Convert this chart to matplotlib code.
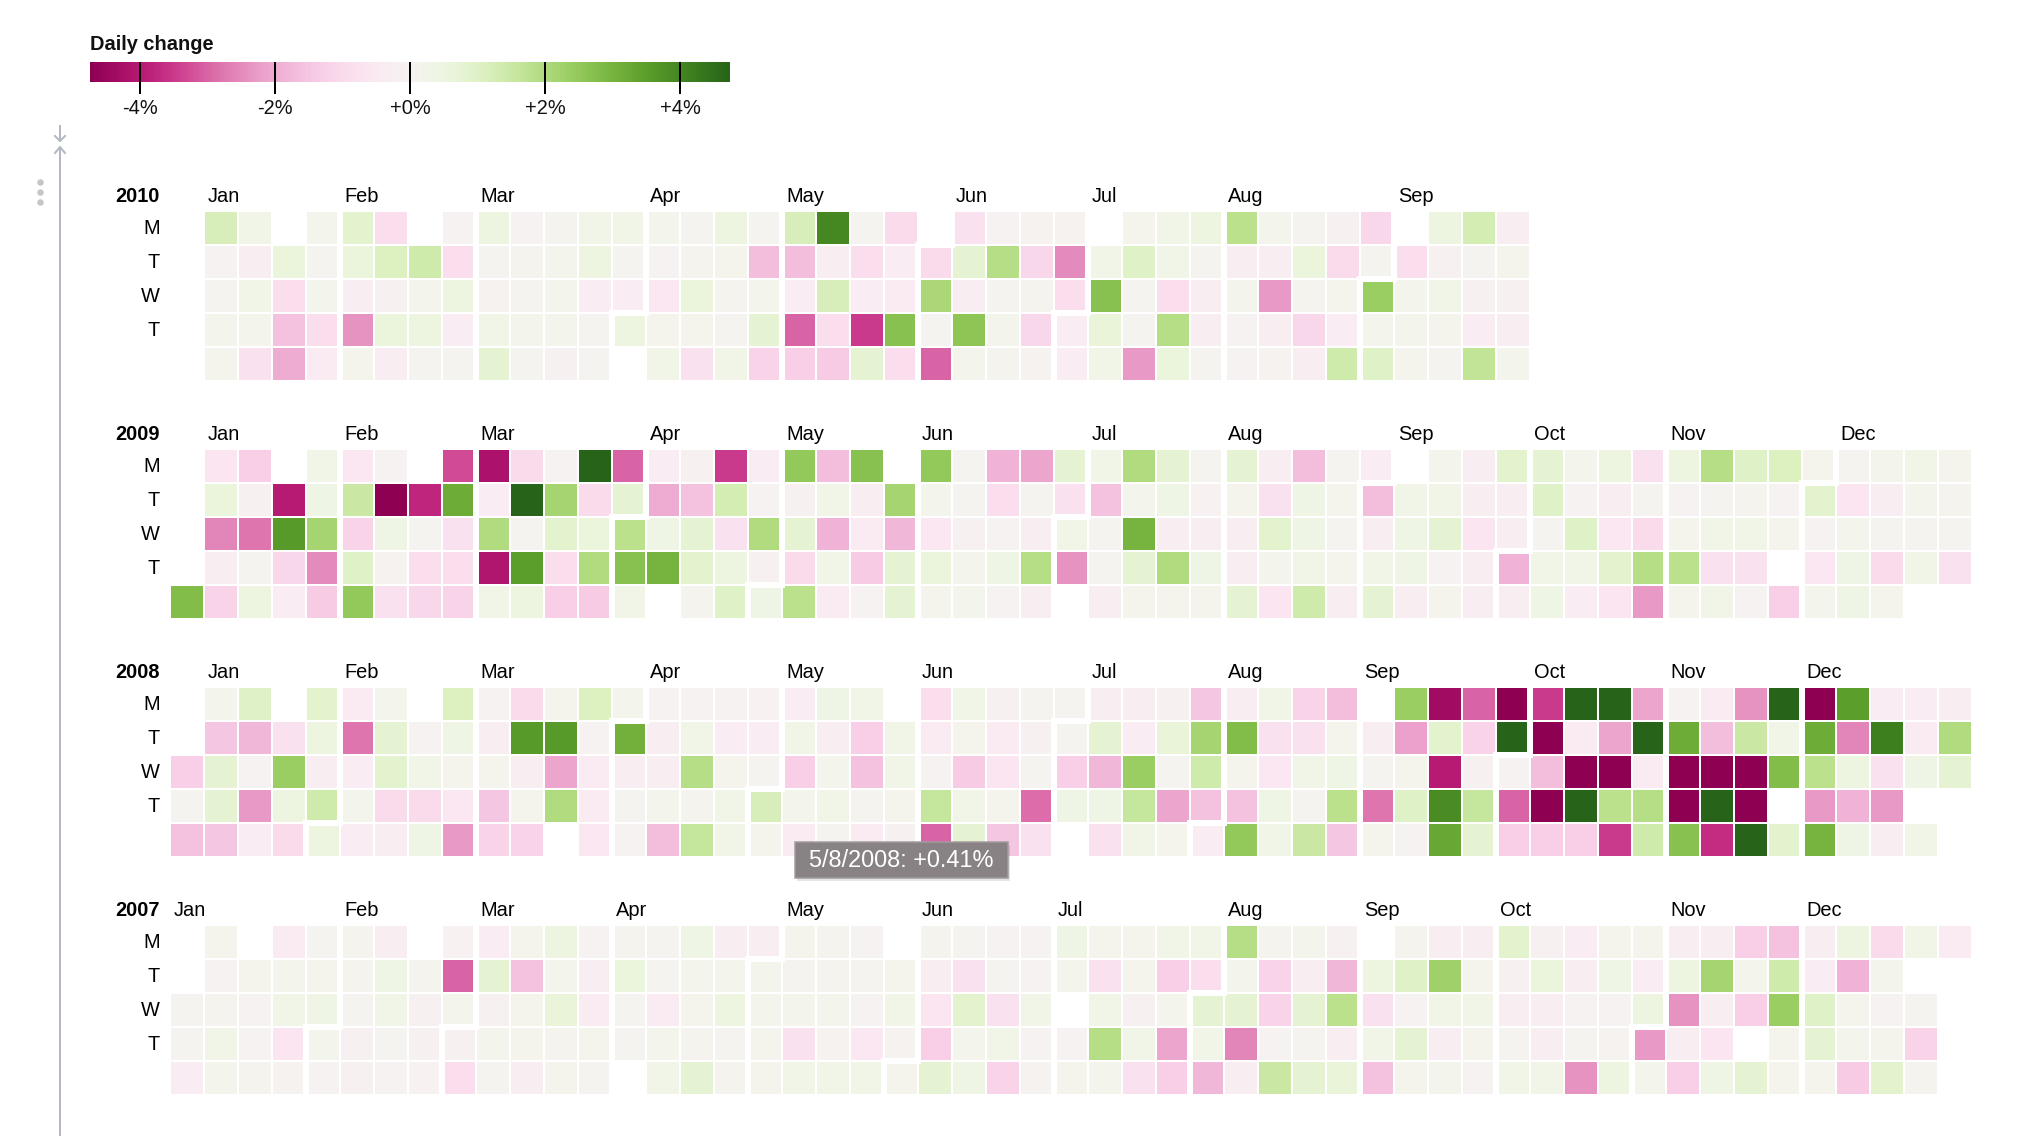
import datetime as dt
import numpy as np
import matplotlib
matplotlib.use("Agg")
import matplotlib.pyplot as plt
from matplotlib.colors import ListedColormap, Normalize
from matplotlib.patches import Rectangle

plt.rcParams['font.family'] = ['Liberation Sans', 'DejaVu Sans']

# ---------------- data ----------------
N = None
years = [2010, 2009, 2008, 2007]
weekday_labels = ["M", "T", "W", "T"]
month_names = ["Jan", "Feb", "Mar", "Apr", "May", "Jun",
               "Jul", "Aug", "Sep", "Oct", "Nov", "Dec"]
legend_title = "Daily change"
legend_ticks = [-4, -2, 0, 2, 4]
legend_tick_labels = ["-4%", "-2%", "+0%", "+2%", "+4%"]
color_max = 4.74          # % at each end of the colour ramp
tooltip_text = "5/8/2008: +0.41%"

# daily change in %, one list per weekday row, one entry per week column
chg_2010_mon = [N, 1.2, 0.3, N, 0.2, 0.9, -0.9, N, -0.1, 0.5, -0.1, 0.05, 0.3, 0.3, 0.2, 0.0, 0.5, 0.0, 1.2, 4.0, 0.0, -1.0, N, -0.8, -0.1, -0.05, -0.05, N, 0.1, 0.3, 0.5, 1.8, 0.2, 0.0, -0.2, -1.1, N, 0.5, 1.3, -0.3]
chg_2010_tue = [N, -0.1, -0.3, 0.6, 0.0, 0.6, 1.1, 1.4, -0.9, 0.0, 0.05, 0.2, 0.5, 0.0, -0.1, 0.05, 0.1, -1.7, -1.7, -0.3, -0.9, -0.4, -1.0, 0.8, 1.9, -1.1, -2.5, 0.3, 1.0, 0.3, 0.0, -0.3, -0.3, 0.6, -1.0, 0.05, -0.9, -0.2, 0.0, 0.1]
chg_2010_wed = [N, 0.0, 0.3, -0.9, 0.2, -0.3, -0.2, 0.2, 0.5, -0.05, 0.0, 0.15, -0.4, -0.4, -0.6, 0.6, 0.05, 0.2, -0.4, 1.2, -0.4, -0.5, 2.1, -0.3, 0.0, 0.05, -0.9, 2.7, 0.0, -0.9, -0.3, 0.2, -2.3, 0.05, 0.1, 2.4, 0.2, 0.3, -0.2, -0.2]
chg_2010_thu = [N, 0.2, 0.15, -1.6, -0.9, -2.4, 0.6, 0.5, -0.4, 0.3, 0.2, 0.2, 0.0, 0.5, 0.1, 0.1, 0.0, 0.8, -3.0, -0.9, -3.5, 2.7, 0.0, 2.6, 0.2, -1.1, -0.4, 0.7, 0.0, 1.9, -0.3, -0.1, -0.3, -1.1, -0.4, 0.2, 0.2, 0.1, -0.4, -0.3]
chg_2010_fri = [N, 0.1, -0.8, -2.0, -0.5, 0.1, -0.3, 0.0, 0.0, 0.8, 0.0, -0.2, 0.0, N, 0.3, -0.8, 0.3, -1.2, -1.3, -1.4, 0.8, -0.9, -3.0, 0.2, 0.05, -0.05, -0.4, 0.3, -2.3, 0.6, 0.0, -0.1, -0.05, -0.3, 1.4, 1.0, 0.1, 0.0, 1.7, 0.2]

chg_2009_mon = [N, -0.7, -1.3, N, 0.3, -0.6, -0.1, N, -3.3, -4.2, -1.0, -0.1, 5.0, -3.0, -0.4, -0.2, -3.5, -0.4, 2.5, -1.7, 2.7, N, 2.5, 0.0, -1.9, -2.1, 0.8, 0.3, 2.0, 0.8, 0.0, 0.8, -0.3, -1.7, 0.0, -0.4, N, 0.15, -0.3, 0.9, 0.8, 0.15, 0.5, -0.8, 0.5, 1.9, 1.0, 1.1, 0.1, 0.0, 0.2, 0.3, 0.1]
chg_2009_tue = [N, 0.6, -0.2, -4.0, 0.4, 1.5, -4.8, -3.8, 3.2, -0.4, 5.0, 2.2, -1.0, 0.8, -2.0, -1.6, 1.3, -0.1, -0.2, 0.3, -0.3, 2.2, 0.2, 0.0, -0.9, 0.0, -0.8, -1.6, 0.15, 0.4, -0.15, 0.1, -0.8, 0.4, 0.1, -1.7, 0.3, 0.3, -0.3, -0.3, 1.0, -0.1, -0.3, 0.0, -0.1, 0.0, 0.05, -0.1, 0.9, -0.7, -0.3, 0.2, 0.05]
chg_2009_wed = [N, -2.6, -2.8, 3.6, 2.2, -1.2, 0.4, 0.0, -0.8, 2.0, 0.0, 0.9, 0.6, 1.8, 0.4, 0.8, -0.8, 2.0, 0.8, -1.9, -0.5, -1.8, -0.6, -0.2, -0.1, -0.3, 0.3, 0.0, 3.0, -0.3, -0.3, -0.3, 0.9, 0.4, 0.0, -0.3, 0.4, 0.8, -0.7, -0.3, 0.0, 1.0, -0.6, -1.0, 0.1, 0.3, 0.3, 0.1, -0.1, 0.2, 0.0, 0.0, 0.0]
chg_2009_thu = [N, -0.3, 0.0, -1.1, -2.5, 1.0, -0.05, -0.9, -0.9, -4.1, 3.5, -0.9, 2.0, 2.7, 3.0, 0.9, 0.5, -0.2, -1.0, 0.3, -1.4, 0.8, 0.6, 0.2, 0.4, 1.9, -2.4, 0.0, 0.8, 2.0, 0.4, -0.3, 0.2, 0.3, 0.1, 0.3, 0.4, -0.1, -0.3, -1.9, 0.3, 0.3, 0.9, 1.9, 1.8, -0.8, -0.8, N, -0.6, 0.4, -1.0, 0.3, -0.8]
chg_2009_fri = [2.8, -1.2, 0.5, -0.4, -1.4, 2.5, -0.8, -1.1, -1.2, 0.3, 0.5, -1.3, -1.4, 0.3, N, 0.05, 1.0, 0.4, 1.8, -0.5, -0.1, 0.8, 0.1, 0.2, -0.1, -0.3, N, -0.3, 0.1, 0.1, 0.1, 0.8, -0.7, 1.4, -0.3, 0.8, -0.3, 0.1, -0.3, -0.3, 0.4, -0.4, -0.7, -2.3, 0.1, 0.3, -0.1, -1.3, 0.2, 0.4, 0.1, N, N]

chg_2008_mon = [N, 0.2, 1.0, N, 0.9, -0.5, 0.2, N, 1.1, -0.1, -1.0, 0.1, 1.1, 0.2, -0.1, -0.1, -0.1, -0.15, -0.4, 0.4, 0.3, N, -0.9, 0.3, -0.2, 0.0, 0.0, -0.3, -0.3, -0.2, -1.5, -0.3, 0.3, -1.2, -1.7, N, 2.4, -4.4, -3.0, -5.0, -3.5, 5.0, 5.0, -2.1, -0.1, -0.5, -2.4, 5.0, -5.0, 3.5, -0.4, -0.4, -0.3]
chg_2008_tue = [N, -1.5, -1.8, -0.8, 0.5, -2.8, 0.8, -0.1, 0.4, -0.3, 3.6, 3.6, -0.1, 3.1, -0.3, 0.3, -0.4, -0.4, 0.3, -0.3, -1.3, 0.3, -0.5, 0.1, -0.5, -0.2, 0.0, 0.8, -0.4, 0.7, 2.2, 2.8, -0.8, -0.8, 0.1, -0.3, -2.2, 0.9, -1.2, 5.0, -5.0, -0.5, -2.1, 5.0, 3.2, -1.7, 1.5, 0.3, 3.2, -2.6, 4.2, -0.5, 2.0]
chg_2008_wed = [-1.3, 0.8, -0.1, 2.4, -0.3, -0.4, 0.9, 0.3, 0.1, 0.1, -0.3, -2.1, -0.5, -0.3, -0.3, 1.9, 0.1, 0.0, -1.3, 0.2, -1.6, 0.3, -0.1, -1.4, -0.7, 0.0, -1.3, -1.8, 2.4, 0.0, 1.4, 0.1, -0.6, 0.3, 0.4, 0.0, 0.1, -4.0, -0.2, -0.1, -1.7, -5.0, -5.0, -0.5, -5.0, -4.8, -5.0, 2.8, 1.8, 0.5, -0.8, 0.4, 0.8]
chg_2008_thu = [0.0, 0.8, -2.3, 0.5, 1.4, 0.15, -1.0, -1.0, -0.6, -1.5, 0.1, 2.0, -0.5, 0.0, 0.2, 0.05, 0.3, 1.2, 0.2, 0.3, 0.0, 0.1, 1.6, 0.3, 0.1, -2.9, 0.4, 0.4, 1.6, -2.1, -1.6, -1.6, 0.4, 0.0, 1.8, -2.8, 1.0, 3.9, 1.6, -3.0, -5.0, 5.0, 1.8, 1.9, -5.0, 5.0, -5.0, N, -2.3, -1.9, -2.3, N, N]
chg_2008_fri = [-1.6, -1.5, -0.4, -1.0, 0.5, -0.4, -0.3, 0.4, -2.3, -1.2, -1.2, N, -0.6, -0.1, -1.7, 1.6, 0.3, 0.1, -0.5, 0.0, -0.5, -0.2, -3.0, 0.8, -1.5, -0.8, N, -0.8, 0.3, 0.1, -0.4, 2.5, 0.3, 1.5, -1.5, 0.1, -0.1, 3.3, 0.8, -1.3, -1.3, -1.3, -3.5, 1.4, 2.7, -3.7, 5.0, 0.9, 3.0, 0.4, -0.3, 0.3, N]

chg_2007_mon = [N, 0.1, N, -0.5, 0.0, 0.05, -0.3, N, -0.15, -0.4, 0.1, 0.5, -0.1, 0.05, 0.0, 0.4, -0.3, -0.3, 0.1, 0.05, -0.1, N, 0.05, 0.0, -0.1, -0.1, 0.4, 0.1, 0.1, 0.3, 0.3, 1.9, 0.05, 0.2, -0.2, N, 0.05, -0.3, -0.3, 0.9, -0.2, -0.4, 0.1, 0.1, -0.3, -0.3, -1.3, -1.6, -0.3, 0.5, -1.0, 0.3, -0.5]
chg_2007_tue = [N, -0.1, 0.1, 0.15, 0.1, 0.05, 0.4, 0.05, -3.0, 0.8, -1.6, 0.15, -0.3, 0.6, 0.0, 0.15, 0.15, 0.2, 0.0, 0.05, 0.0, 0.1, -0.3, -0.8, 0.0, -0.1, 0.15, -0.8, 0.1, -1.3, -0.9, 0.15, -1.2, -0.3, -1.8, 0.5, 1.0, 2.3, 0.1, -0.2, 0.6, -0.3, 0.4, -0.4, 0.5, 2.2, 0.15, 1.4, -0.4, -1.9, 0.15, N, N]
chg_2007_wed = [0.0, 0.05, -0.1, 0.3, 0.4, 0.0, 0.3, -0.2, 0.15, -0.2, 0.1, 0.7, -0.5, 0.0, -0.5, 0.1, 0.5, 0.2, 0.15, 0.2, -0.1, 0.3, -0.7, 0.9, -0.8, 0.3, N, 0.3, -0.2, 0.15, 0.8, 0.8, -1.2, 0.8, 1.8, -0.8, -0.1, 0.3, 0.3, -0.3, -0.3, -0.1, -0.1, 0.5, -2.4, -0.3, -1.3, 2.4, 1.0, 0.1, -0.1, 0.0, N]
chg_2007_thu = [0.0, 0.3, -0.1, -0.7, 0.15, -0.2, 0.0, -0.2, -0.2, 0.15, 0.1, 0.05, 0.1, 0.0, 0.15, 0.05, 0.0, 0.1, -0.8, -0.05, -0.6, -0.05, -1.3, 0.2, 0.3, -0.1, -0.1, 1.9, 0.3, -2.1, 0.3, -2.6, -0.1, 0.0, -0.3, 0.3, 0.8, -0.3, 0.1, 0.0, -0.3, 0.0, -0.05, -2.3, -0.3, -0.7, N, 0.1, 0.8, 0.15, 0.1, -1.2, N]
chg_2007_fri = [-0.4, 0.15, 0.05, -0.05, -0.1, -0.2, -0.1, -0.15, -0.9, 0.0, -0.3, 0.1, 0.0, N, 0.3, 0.8, 0.05, 0.1, 0.3, 0.3, 0.3, 0.1, 0.8, 0.4, -1.2, -0.05, 0.1, 0.15, -0.8, -1.3, -1.8, -0.3, 1.5, 0.8, 0.7, -1.6, 0.1, 0.15, -0.1, 0.3, 0.3, -2.4, 0.5, 0.15, -1.3, 0.4, 0.8, 0.1, 0.1, -1.4, 0.9, 0.05, N]

year_rows = {
    2010: [chg_2010_mon, chg_2010_tue, chg_2010_wed, chg_2010_thu, chg_2010_fri],
    2009: [chg_2009_mon, chg_2009_tue, chg_2009_wed, chg_2009_thu, chg_2009_fri],
    2008: [chg_2008_mon, chg_2008_tue, chg_2008_wed, chg_2008_thu, chg_2008_fri],
    2007: [chg_2007_mon, chg_2007_tue, chg_2007_wed, chg_2007_thu, chg_2007_fri],
}

# ---------------- colour scale (d3.interpolatePiYG, basis spline) ----------------
_hex = "8e0152c51b7dde77aef1b6dafde0eff7f7f7e6f5d0b8e1867fbc414d9221276419"
_stops = np.array([[int(_hex[j + k:j + k + 2], 16) for k in (0, 2, 4)]
                   for j in range(0, len(_hex), 6)], float) / 255.0


def _basis(t):
    n = len(_stops) - 1
    t = np.clip(np.asarray(t, float), 0, 1)
    i = np.minimum(np.floor(t * n).astype(int), n - 1)
    v1 = _stops[i]
    v2 = _stops[i + 1]
    v0 = np.where((i > 0)[:, None], _stops[np.maximum(i - 1, 0)], 2 * v1 - v2)
    v3 = np.where((i < n - 1)[:, None], _stops[np.minimum(i + 2, n)], 2 * v2 - v1)
    t1 = ((t - i / n) * n)[:, None]
    t2 = t1 * t1
    t3 = t2 * t1
    return ((1 - 3 * t1 + 3 * t2 - t3) * v0 + (4 - 6 * t2 + 3 * t3) * v1
            + (1 + 3 * t1 + 3 * t2 - 3 * t3) * v2 + t3 * v3) / 6


cmap = ListedColormap(np.clip(_basis(np.linspace(0, 1, 512)), 0, 1))
norm = Normalize(-color_max, color_max, clip=True)

# ---------------- layout (pixels) ----------------
W, H, DPI = 2032, 1136, 100
PX = 72.0 / DPI
CELL = 34.0                 # pixels per cell
N_WEEKS = 53
GRID_LEFT = 170.0
GRID_TOP0 = 210.5
YEAR_STEP = 238.0
FS = 20 * PX
EM = 20.0 / CELL            # one em in cell units

fig = plt.figure(figsize=(W / DPI, H / DPI), dpi=DPI)
fig.patch.set_facecolor("white")


def fig_rect(x, y, w, h):
    return [x / W, 1 - (y + h) / H, w / W, h / H]


for k, yr in enumerate(years):
    top = GRID_TOP0 + YEAR_STEP * k
    ax = fig.add_axes(fig_rect(GRID_LEFT, top, N_WEEKS * CELL, 5 * CELL))
    ax.set_xlim(0, N_WEEKS)
    ax.set_ylim(5, 0)
    ax.axis("off")

    jan1 = dt.date(yr, 1, 1)
    monday0 = jan1 - dt.timedelta(days=jan1.weekday())
    xs, ds, vs, dates = [], [], [], []
    for d, row in enumerate(year_rows[yr]):
        for c, v in enumerate(row):
            if v is None:
                continue
            day = monday0 + dt.timedelta(days=7 * c + d)
            if day.year != yr and not (yr == 2010 and day.month == 10):
                continue
            xs.append(c)
            ds.append(d)
            vs.append(v)
            dates.append(day)
    xs = np.array(xs, float)
    ds = np.array(ds, float)
    colors = cmap(norm(np.array(vs)))
    g = 0.5 / 17
    ax.bar(xs + g, 16 / 17, width=16 / 17, bottom=ds + g, align="edge",
           color=colors, linewidth=0)

    last = max(dates)
    months = [m for m in range(1, 13) if dt.date(yr, m, 1) < last]
    for i, m in enumerate(months):
        first = dt.date(yr, m, 1)
        # month label at first Monday on/after the month start
        ceil = first + dt.timedelta(days=(7 - first.weekday()) % 7)
        wl = (ceil - monday0).days // 7
        ax.text(wl + 2 / 17, -4.5 / 17, month_names[m - 1], fontsize=FS,
                ha="left", va="baseline", color="black", clip_on=False)
        if i == 0:
            continue
        w = (first - monday0).days // 7
        dd = min(5, first.weekday())
        if dd == 0:
            px, py = [w, w], [0, 5]
        elif dd == 5:
            px, py = [w + 1, w + 1], [0, 5]
        else:
            px, py = [w + 1, w + 1, w, w], [0, dd, dd, 5]
        ax.plot(px, py, color="white", lw=3 * 2 * PX, solid_joinstyle="miter",
                solid_capstyle="butt", clip_on=False, zorder=3)

    ax.text(-5 / 17, -4.5 / 17, str(yr), fontsize=FS, fontweight="bold",
            ha="right", va="baseline", color="black", clip_on=False)
    for i, lab in enumerate(weekday_labels):
        ax.text(-5 / 17, i + 0.5 + 0.34 * EM, lab, fontsize=FS, ha="right",
                va="baseline", color="black", clip_on=False)

# ---------------- legend ----------------
lg = fig.add_axes(fig_rect(90, 62, 640, 20))
ramp = np.linspace(-color_max, color_max, 640)[None, :]
lg.imshow(ramp, cmap=cmap, norm=norm, aspect="auto",
          extent=(-color_max, color_max, 0, 1), interpolation="bilinear")
lg.set_xlim(-color_max, color_max)
lg.set_ylim(0, 1)
lg.axis("off")
tr = lg.get_xaxis_transform()
lg.vlines(legend_ticks, -12 / 20, 1, color="black", lw=2 * PX,
          transform=tr, clip_on=False)
for t, lab in zip(legend_ticks, legend_tick_labels):
    lg.text(t, -26 / 20, lab, fontsize=FS, ha="center", va="center",
            transform=tr, color="#111111")
lg.text(0, 32 / 20, legend_title, fontsize=FS, fontweight="bold",
        ha="left", va="baseline", transform=lg.transAxes, color="#111111")

# ---------------- notebook gutter and tooltip ----------------
ov = fig.add_axes([0, 0, 1, 1], zorder=10)
ov.set_xlim(0, W)
ov.set_ylim(H, 0)
ov.axis("off")
ov.patch.set_alpha(0)
gut = "#b3b8c3"
ov.plot([60, 60], [147, H], color=gut, lw=2 * PX, solid_capstyle="butt")
ov.plot([55, 60, 65], [153, 147, 153], color=gut, lw=2 * PX)
ov.plot([60, 60], [126, 141], color=gut, lw=2 * PX)
ov.plot([55, 60, 65], [136, 141, 136], color=gut, lw=2 * PX)
ov.scatter([40, 40, 40], [182, 192, 202], s=(6.5 * PX) ** 2 * 1.0,
           color="#c6c6c6", linewidths=0)

ov.add_patch(Rectangle((797, 845), 213, 36, facecolor=(0, 0, 0, 0.10),
                       edgecolor="none"))
ov.add_patch(Rectangle((795, 842), 213, 36, facecolor="#888284",
                       edgecolor="#a29c9e", lw=1.5 * PX))
ov.text(901.5, 860.5, tooltip_text, color="white", fontsize=23.5 * PX,
        ha="center", va="center")

fig.savefig("out.png", dpi=DPI, facecolor="white")
